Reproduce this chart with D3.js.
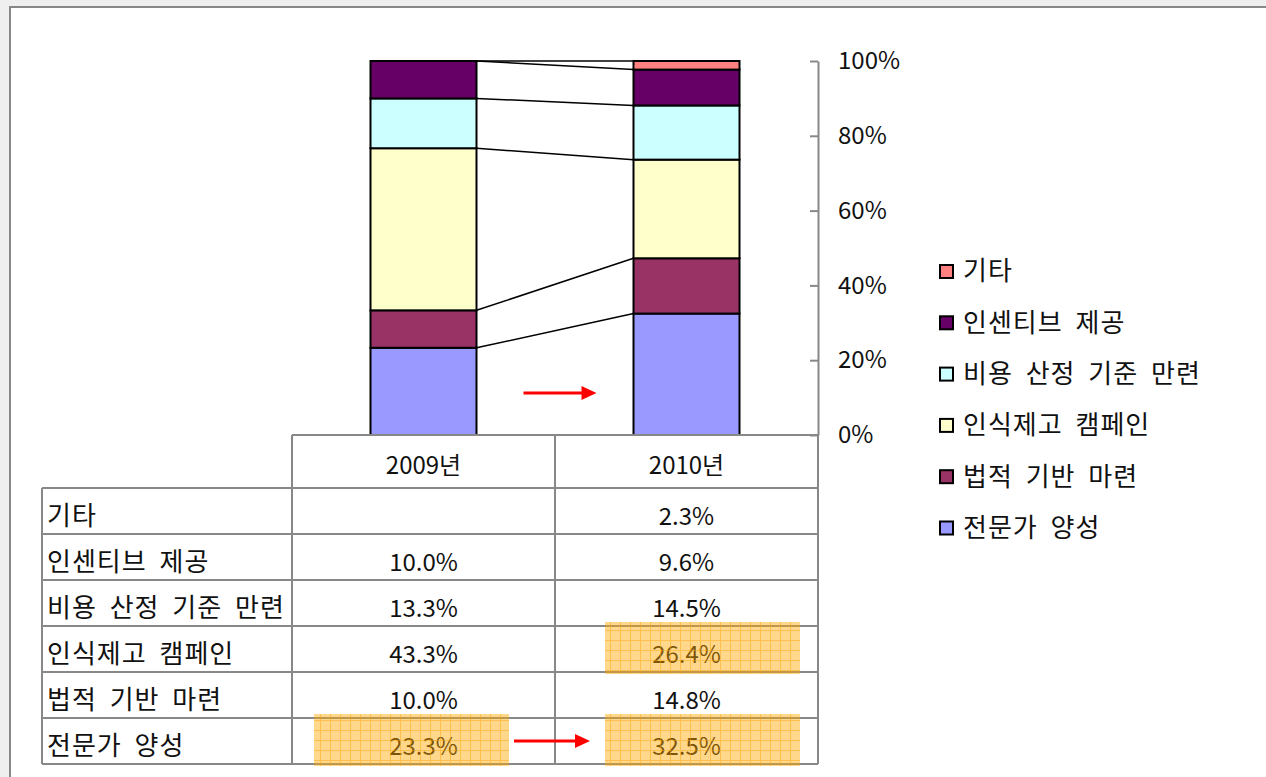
<!DOCTYPE html>
<html>
<head>
<meta charset="utf-8">
<script src="https://cdn.jsdelivr.net/npm/d3@7"></script>
<style>
  body { margin: 0; background: #efefef; }
  svg text { font-family: "Noto Sans CJK KR", "Noto Sans", sans-serif; fill: #111; }
</style>
</head>
<body>
<svg id="chart" width="1266" height="777"></svg>
<script>
// data
var years = ["2009년", "2010년"];
var series = ["전문가 양성", "법적 기반 마련", "인식제고 캠페인", "비용 산정 기준 만련", "인센티브 제공", "기타"];
var values2009 = [23.3, 10.0, 43.3, 13.3, 10.0, null];
var values2010 = [32.5, 14.8, 26.4, 14.5, 9.6, 2.3];
var yTicks = [0, 0.2, 0.4, 0.6, 0.8, 1.0];
// highlighted table cells [series, year]
var highlights = [["인식제고 캠페인", "2010년"], ["전문가 양성", "2009년"], ["전문가 양성", "2010년"]];

var colors = ["#9999FF", "#993366", "#FFFFCC", "#CCFFFF", "#660066", "#FF8080"];
var numSize = 24, korSize = 26;

var svg = d3.select("#chart");

// page frame
svg.append("rect").attr("x", 0).attr("y", 0).attr("width", 1266).attr("height", 777).attr("fill", "#efefef");
svg.append("rect").attr("x", 10).attr("y", 7).attr("width", 1300).attr("height", 800)
  .attr("fill", "#fff").attr("stroke", "#888").attr("stroke-width", 2);

var defs = svg.append("defs");
var pat = defs.append("pattern").attr("id", "grid").attr("patternUnits", "userSpaceOnUse")
  .attr("width", 10).attr("height", 10);
pat.append("rect").attr("width", 10).attr("height", 10).attr("fill", "#ffa800").attr("opacity", 0.45);
pat.append("path").attr("d", "M0,0.5H10M0.5,0V10").attr("stroke", "#ffa000").attr("stroke-width", 1).attr("opacity", 0.45);

var rows = years.map(function (yr, i) {
  var r = { year: yr };
  series.forEach(function (s, j) {
    var v = i == 0 ? values2009[j] : values2010[j];
    r[s] = v == null ? 0 : v;
  });
  return r;
});

var x = d3.scaleBand().domain(years).range([292, 818]);
var y = d3.scaleLinear().domain([0, 1]).range([435, 61]);
var z = d3.scaleOrdinal().domain(series).range(colors);
var barW = 106;
var barX = function (yr) { return x(yr) + (x.bandwidth() - barW) / 2; };

var stacked = d3.stack().keys(series).offset(d3.stackOffsetExpand)(rows);

// series lines
var g = svg.append("g");
stacked.forEach(function (s) {
  g.append("line")
    .attr("x1", barX(years[0]) + barW).attr("y1", y(s[0][1]))
    .attr("x2", barX(years[1])).attr("y2", y(s[1][1]))
    .attr("stroke", "#000").attr("stroke-width", 1.5);
});

g.selectAll("g.layer").data(stacked).enter().append("g").attr("class", "layer")
  .attr("fill", function (d) { return z(d.key); })
  .selectAll("rect").data(function (d) { return d; })
  .enter().append("rect")
  .filter(function (d) { return d[1] - d[0] > 0; })
  .attr("x", function (d) { return barX(d.data.year); })
  .attr("y", function (d) { return y(d[1]); })
  .attr("width", barW)
  .attr("height", function (d) { return y(d[0]) - y(d[1]); })
  .attr("stroke", "#000").attr("stroke-width", 2);

// axis on right
var axis = svg.append("g").attr("transform", "translate(818,0)")
  .call(d3.axisRight(y).tickValues(yTicks).tickFormat(d3.format(".0%")).tickSizeInner(-8).tickSizeOuter(0).tickPadding(20));
axis.select(".domain").attr("stroke", "#888").attr("stroke-width", 2);
axis.selectAll(".tick line").attr("stroke", "#888").attr("stroke-width", 2);
axis.selectAll(".tick text").attr("font-size", numSize).attr("font-family", "Noto Sans CJK KR").attr("fill", "#111");

// arrow between bars
function arrow(x1, x2, yy) {
  svg.append("line").attr("x1", x1).attr("x2", x2 - 12).attr("y1", yy).attr("y2", yy)
    .attr("stroke", "#f00").attr("stroke-width", 3);
  svg.append("path").attr("d", "M" + (x2 - 15) + "," + (yy - 7) + "L" + x2 + "," + yy + "L" + (x2 - 15) + "," + (yy + 7) + "Z")
    .attr("fill", "#f00");
}
arrow(barX(years[0]) + barW + 47, barX(years[1]) - 37, y(0.112));

// table
var tableTop = y(0), headH = 53, rowH = 46, labelX = 42;
var tableRows = series.slice().reverse();
var tableRight = x.range()[1];
var t = svg.append("g");
var lineC = "#888";
function hline(x1, x2, yy) { t.append("line").attr("x1", x1).attr("x2", x2).attr("y1", yy).attr("y2", yy).attr("stroke", lineC).attr("stroke-width", 2); }
function vline(xx, y1, y2) { t.append("line").attr("x1", xx).attr("x2", xx).attr("y1", y1).attr("y2", y2).attr("stroke", lineC).attr("stroke-width", 2); }

var bottom = tableTop + headH + rowH * tableRows.length;
hline(x.range()[0], tableRight, tableTop);
for (var i = 0; i <= tableRows.length; i++) hline(labelX, tableRight, tableTop + headH + rowH * i);
vline(labelX, tableTop + headH, bottom);
vline(x.range()[0], tableTop, bottom);
vline(x(years[1]), tableTop, bottom);
vline(tableRight, tableTop, bottom);

years.forEach(function (yr) {
  t.append("text").attr("x", x(yr) + x.bandwidth() / 2).attr("y", tableTop + headH - 14)
    .attr("text-anchor", "middle").attr("font-size", numSize).text(yr);
});
tableRows.forEach(function (s, i) {
  var by = tableTop + headH + rowH * (i + 1) - 9;
  var j = series.indexOf(s);
  t.append("text").attr("x", labelX + 5).attr("y", by).attr("font-size", korSize)
    .attr("letter-spacing", 1).attr("word-spacing", 6).text(s);
  [values2009[j], values2010[j]].forEach(function (v, k) {
    if (v == null) return;
    t.append("text").attr("x", x(years[k]) + x.bandwidth() / 2).attr("y", by)
      .attr("text-anchor", "middle").attr("font-size", numSize).text(d3.format(".1f")(v) + "%");
  });
});

// highlight overlays
highlights.forEach(function (h) {
  var i = tableRows.indexOf(h[0]);
  var ry = tableTop + headH + rowH * i;
  var off = h[1] == years[0] ? 22 : 50;
  svg.append("rect").attr("x", x(h[1]) + off).attr("y", ry - 4)
    .attr("width", 195).attr("height", rowH + 6).attr("fill", "url(#grid)");
});
arrow(x(years[0]) + 222, x(years[1]) + 35, tableTop + headH + rowH * 5 + 23);

// legend
var legend = svg.append("g").selectAll("g").data(series.slice().reverse()).enter().append("g")
  .attr("transform", function (d, i) { return "translate(940," + (271 + i * 51.3) + ")"; });
legend.append("rect").attr("x", 0).attr("y", -6).attr("width", 13).attr("height", 13)
  .attr("fill", z).attr("stroke", "#000").attr("stroke-width", 2);
legend.append("text").attr("x", 23).attr("y", 0).attr("dy", "0.36em").attr("font-size", korSize)
  .attr("letter-spacing", 1).attr("word-spacing", 6).text(function (d) { return d; });
</script>
</body>
</html>
